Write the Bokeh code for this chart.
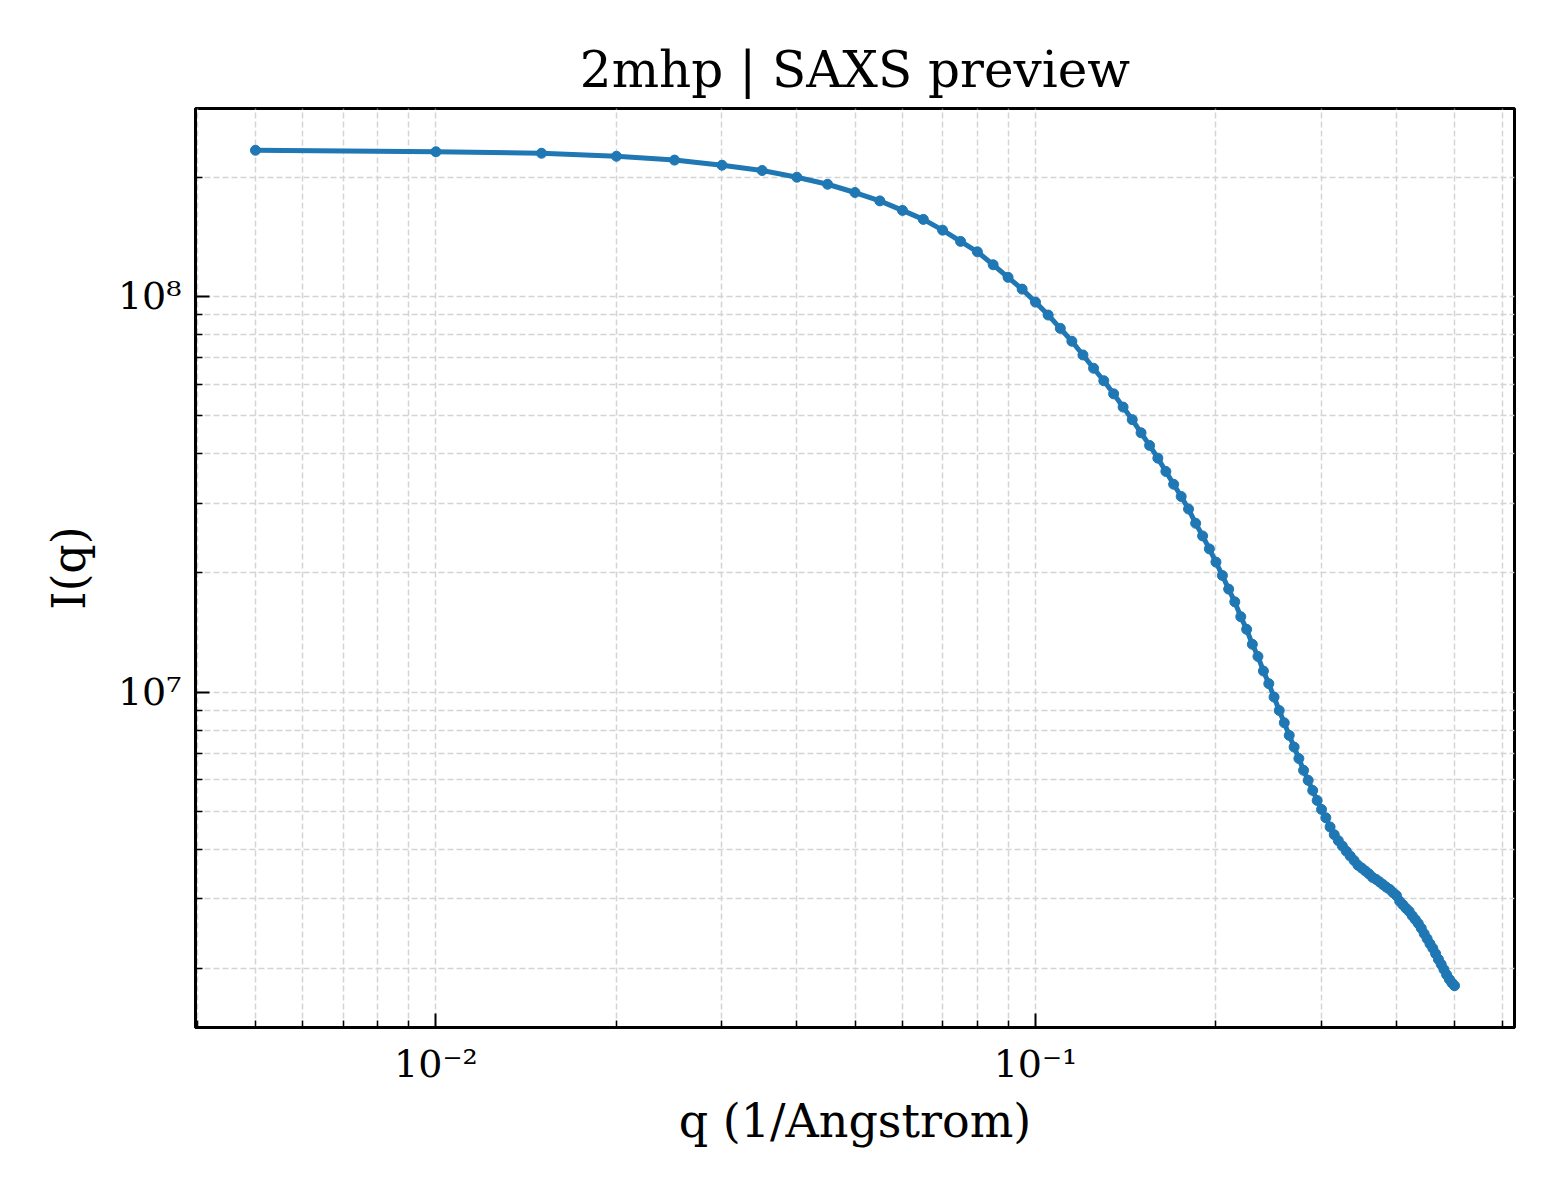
from bokeh.plotting import figure
from bokeh.models import ColumnDataSource, Range1d, FixedTicker, CustomJSTickFormatter
from bokeh.embed import file_html
from bokeh.resources import INLINE
import numpy as np

q = [0.005, 0.010, 0.015, 0.020, 0.025, 0.030, 0.035, 0.040, 0.045, 0.050,
     0.055, 0.060, 0.065, 0.070, 0.075, 0.080, 0.085, 0.090, 0.095, 0.100,
     0.105, 0.110, 0.115, 0.120, 0.125, 0.130, 0.135, 0.140, 0.145, 0.150,
     0.155, 0.160, 0.165, 0.170, 0.175, 0.180, 0.185, 0.190, 0.195, 0.200,
     0.205, 0.210, 0.215, 0.220, 0.225, 0.230, 0.235, 0.240, 0.245, 0.250,
     0.255, 0.260, 0.265, 0.270, 0.275, 0.280, 0.285, 0.290, 0.295, 0.300,
     0.305, 0.310, 0.315, 0.320, 0.325, 0.330, 0.335, 0.340, 0.345, 0.350,
     0.355, 0.360, 0.365, 0.370, 0.375, 0.380, 0.385, 0.390, 0.395, 0.400,
     0.405, 0.410, 0.415, 0.420, 0.425, 0.430, 0.435, 0.440, 0.445, 0.450,
     0.455, 0.460, 0.465, 0.470, 0.475, 0.480, 0.485, 0.490, 0.495, 0.500]

intensity = [2.34e8, 2.32e8, 2.30e8, 2.26e8, 2.21e8, 2.145e8, 2.08e8, 2.00e8, 1.92e8, 1.83e8,
             1.743e8, 1.649e8, 1.565e8, 1.470e8, 1.377e8, 1.296e8, 1.202e8, 1.117e8, 1.043e8, 9.67e7,
             8.97e7, 8.30e7, 7.70e7, 7.11e7, 6.58e7, 6.12e7, 5.67e7, 5.25e7, 4.88e7, 4.52e7,
             4.20e7, 3.90e7, 3.61e7, 3.35e7, 3.12e7, 2.90e7, 2.67e7, 2.48e7, 2.30e7, 2.13e7,
             1.97e7, 1.82e7, 1.69e7, 1.55e7, 1.44e7, 1.32e7, 1.23e7, 1.13e7, 1.05e7, 9.71e6,
             8.98e6, 8.36e6, 7.77e6, 7.26e6, 6.79e6, 6.34e6, 5.98e6, 5.64e6, 5.32e6, 5.05e6,
             4.81e6, 4.56e6, 4.36e6, 4.21e6, 4.08e6, 3.96e6, 3.85e6, 3.75e6, 3.65e6, 3.59e6,
             3.53e6, 3.47e6, 3.40e6, 3.36e6, 3.31e6, 3.26e6, 3.21e6, 3.17e6, 3.11e6, 3.06e6,
             2.96e6, 2.90e6, 2.84e6, 2.79e6, 2.72e6, 2.66e6, 2.60e6, 2.53e6, 2.45e6, 2.38e6,
             2.31e6, 2.25e6, 2.18e6, 2.11e6, 2.05e6, 1.99e6, 1.93e6, 1.88e6, 1.84e6, 1.81e6]

# Ticks dos eixos log
x_major = [0.01, 0.1]
y_major = [1e7, 1e8]
x_decades = [-3, -2, -1]
y_decades = [6, 7, 8]

source = ColumnDataSource(dict(q=q, I=intensity))


# Margem de 5% em escala log (como o matplotlib)
def log_pad(vals, frac=0.05):
    lo, hi = np.log10(min(vals)), np.log10(max(vals))
    d = (hi - lo) * frac
    return 10 ** (lo - d), 10 ** (hi + d)


x0, x1 = log_pad(q)
y0, y1 = log_pad(intensity)

x_minor = [m * 10.0 ** e for e in x_decades for m in range(2, 10) if x0 <= m * 10.0 ** e <= x1]
y_minor = [m * 10.0 ** e for e in y_decades for m in range(2, 10) if y0 <= m * 10.0 ** e <= y1]

font = "DejaVu Serif"

p = figure(title="2mhp | SAXS preview", x_axis_type="log", y_axis_type="log",
           x_range=Range1d(x0, x1), y_range=Range1d(y0, y1),
           frame_width=1319, frame_height=919,
           min_border_left=195, min_border_top=108, min_border_right=30, min_border_bottom=157,
           x_axis_label="q (1/Angstrom)", y_axis_label="I(q)",
           output_backend="svg", toolbar_location=None)

p.background_fill_color = "white"
p.border_fill_color = "white"
p.outline_line_color = "black"
p.outline_line_width = 3
p.outline_line_alpha = 1

p.title.text_font = font
p.title.text_font_size = "50px"
p.title.text_font_style = "normal"
p.title.text_color = "black"
p.title.align = "center"
p.title.standoff = 20

sup = CustomJSTickFormatter(code="""
const m = {'-': '\u207b', '0': '\u2070', '1': '\u00b9', '2': '\u00b2', '3': '\u00b3',
           '4': '\u2074', '5': '\u2075', '6': '\u2076', '7': '\u2077', '8': '\u2078', '9': '\u2079'};
const e = String(Math.round(Math.log10(tick)));
return '10' + e.split('').map(c => m[c]).join('');
""")

p.xaxis.ticker = FixedTicker(ticks=x_major, minor_ticks=x_minor)
p.yaxis.ticker = FixedTicker(ticks=y_major, minor_ticks=y_minor)

for ax in (p.xaxis, p.yaxis):
    ax.formatter = sup
    ax.axis_line_width = 3
    ax.axis_line_color = "black"
    ax.major_tick_in = 14
    ax.major_tick_out = 0
    ax.minor_tick_in = 7
    ax.minor_tick_out = 0
    ax.major_tick_line_width = 2
    ax.minor_tick_line_width = 1.5
    ax.major_tick_line_color = "black"
    ax.minor_tick_line_color = "black"
    ax.major_label_text_font = font
    ax.major_label_text_font_size = "38px"
    ax.major_label_text_color = "black"
    ax.major_label_standoff = 14
    ax.axis_label_text_font = font
    ax.axis_label_text_font_size = "46px"
    ax.axis_label_text_font_style = "normal"
    ax.axis_label_text_color = "black"

p.xaxis.axis_label_standoff = 5
p.yaxis.axis_label_standoff = 19

# Grade tracejada (maior e menor)
for g in (p.xgrid, p.ygrid):
    g.grid_line_color = "#d4d4d4"
    g.grid_line_dash = "6 3"
    g.grid_line_width = 1.5
    g.minor_grid_line_color = "#d4d4d4"
    g.minor_grid_line_dash = "6 3"
    g.minor_grid_line_width = 1.5

# Curva com pontos
p.line(x="q", y="I", source=source, line_color="#1f77b4", line_width=5)
p.scatter(x="q", y="I", source=source, size=10, color="#1f77b4")

open("out.html", "w").write(file_html(p, INLINE))
